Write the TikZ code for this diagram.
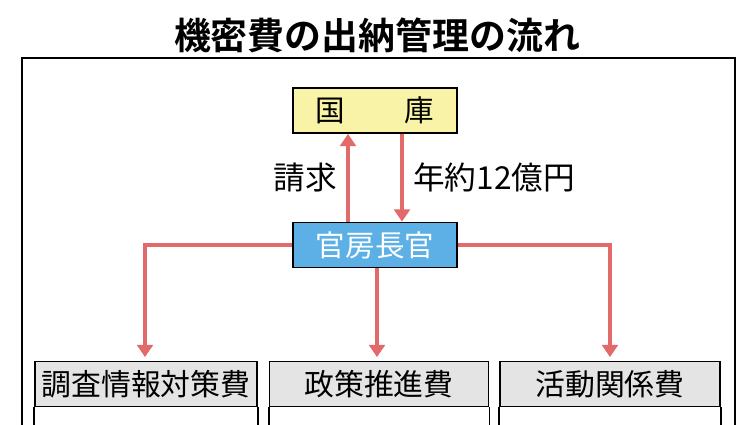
\documentclass[tikz,border=0pt]{standalone}
\usepackage{fontspec}
\setmainfont{Noto Sans CJK JP}
\newfontfamily\boldjp{Noto Sans CJK JP Bold}
\usetikzlibrary{positioning}
\usetikzlibrary{arrows.meta}
\definecolor{flowred}{HTML}{E26A6A}
\definecolor{kokkoyellow}{HTML}{F8F3A6}
\definecolor{chokanblue}{HTML}{5DB0E6}
\definecolor{costgray}{HTML}{E4E4E4}
\tikzset{
  flow/.style = {draw = flowred, line width = 2.2pt, -{Triangle[length=7pt, width=9pt]}},
  topbox/.style = {draw, line width = 1pt, minimum width = 3.28cm, minimum height = 0.9cm, font = \fontsize{16.8}{17}\selectfont, inner sep = 0pt},
  costbox/.style = {draw, line width = 1pt, fill = costgray, minimum height = 0.9cm, font = \fontsize{17}{17}\selectfont, inner sep = 0pt},
}
\begin{document}
\begin{tikzpicture}
\useasboundingbox (0, 0) rectangle (15.08, -8.48);
\node[font = \boldjp\fontsize{21}{21}\selectfont] (title) at (7.54, -0.7) {機密費の出納管理の流れ};
\draw[line width = 1.2pt] (0.44, -8.6) -- (0.44, -1.16) -- (14.7, -1.16) -- (14.7, -8.6);

\node[topbox, fill = kokkoyellow] (kokko) at (7.5, -2.21) {国\hspace{2em}庫};
\node[topbox, fill = chokanblue, text = white] (chokan) at (7.5, -4.9) {官房長官};

\node[costbox, minimum width = 4.44cm] (chosa) at (2.92, -7.68) {調査情報対策費};
\node[costbox, minimum width = 4.38cm] (seisaku) at (7.58, -7.68) {政策推進費};
\node[costbox, minimum width = 4.4cm] (katsudo) at (12.2, -7.68) {活動関係費};
\foreach \b in {chosa, seisaku, katsudo}
  \draw[line width = 1pt] (\b.south west) -- ++(0, -0.4) (\b.south east) -- ++(0, -0.4);

\draw[flow] (chokan.north -| 6.96, 0) -- node[left = 2pt, font = \fontsize{18}{18}\selectfont] {請求} (kokko.south -| 6.96, 0);
\draw[flow] (kokko.south -| 8.04, 0) -- node[right = 2pt, font = \fontsize{18}{18}\selectfont] {年約12億円} (chokan.north -| 8.04, 0);
\draw[flow] (chokan.west) -| ([yshift = 2pt] chosa.north -| 2.9, 0);
\draw[flow] (chokan.east) -| ([yshift = 2pt] katsudo.north -| 12.2, 0);
\draw[flow] (chokan.south -| 7.54, 0) -- ([yshift = 2pt] seisaku.north -| 7.54, 0);
\end{tikzpicture}
\end{document}
